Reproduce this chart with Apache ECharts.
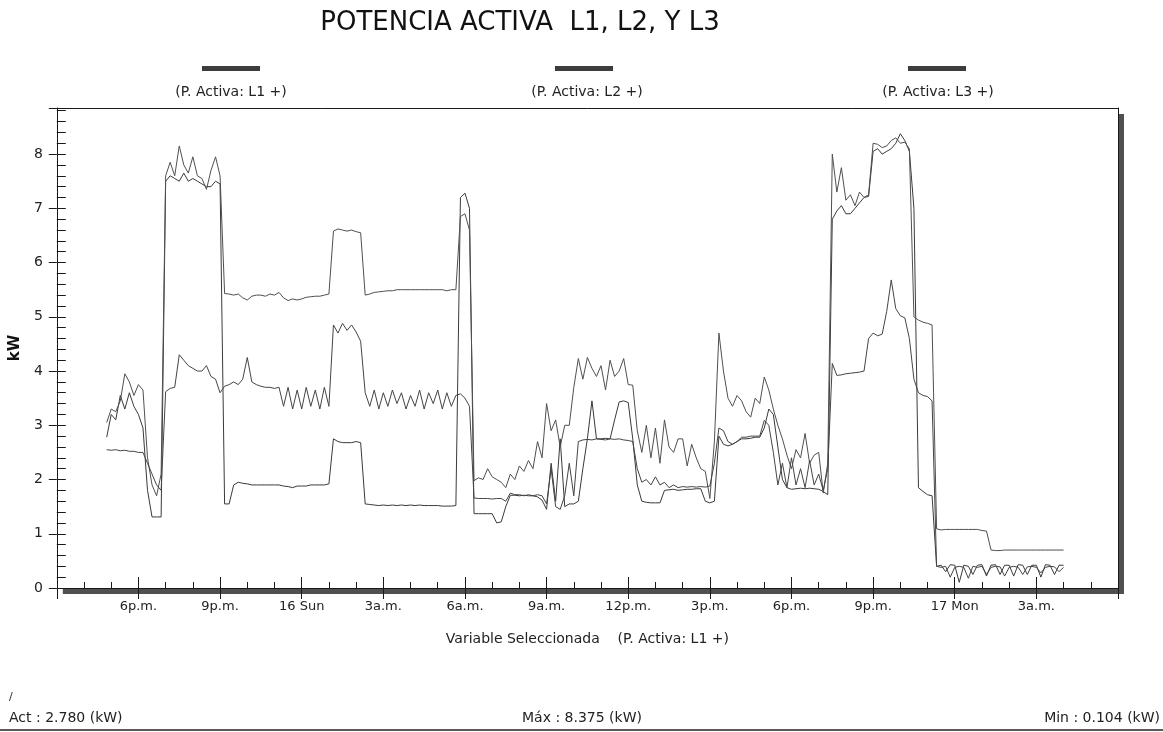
<!DOCTYPE html>
<html><head><meta charset="utf-8">
<script src="https://cdn.jsdelivr.net/npm/echarts@6/dist/echarts.min.js"></script>
<style>html,body{margin:0;padding:0;background:#fff}#c{width:1163px;height:732px}</style>
</head><body><div id="c"></div>
<script>
// ---------- data ----------
const chartTitle = 'POTENCIA ACTIVA  L1, L2, Y L3';
const seriesNames = ['(P. Activa: L1 +)', '(P. Activa: L2 +)', '(P. Activa: L3 +)'];
const xAxisTitle = 'Variable Seleccionada    (P. Activa: L1 +)';
// x axis in hours after 15:00 (day 15); one label every 3 h
const xTickLabels = ['', '6p.m.', '9p.m.', '16 Sun', '3a.m.', '6a.m.', '9a.m.', '12p.m.', '3p.m.', '6p.m.', '9p.m.', '17 Mon', '3a.m.', ''];
const START_HOUR = 110 / 60;   // first sample 16:50
const STEP_HOUR = 10 / 60;     // one sample every 10 minutes

const L1 = [2.78, 3.2, 3.1, 3.55, 3.3, 3.6, 3.35, 3.2, 2.95, 1.8, 1.31, 1.31, 1.31,
  7.5, 7.6, 7.55, 7.5, 7.65, 7.5, 7.55, 7.5, 7.45, 7.4, 7.4, 7.5, 7.45,
  1.55, 1.55, 1.9, 1.95, 1.93, 1.92, 1.9, 1.9, 1.9, 1.9, 1.9, 1.9, 1.9, 1.88, 1.87, 1.85, 1.88, 1.88, 1.88, 1.9, 1.9, 1.9, 1.9, 1.92,
  2.75, 2.7, 2.68, 2.68, 2.68, 2.7, 2.68,
  1.55, 1.54, 1.53, 1.52, 1.53, 1.52, 1.53, 1.52, 1.53, 1.52, 1.53, 1.52, 1.53, 1.52, 1.52, 1.52, 1.52, 1.51, 1.51, 1.51, 1.52,
  7.2, 7.28, 7.0,
  1.37, 1.37, 1.37, 1.37, 1.37, 1.2, 1.22, 1.5, 1.71, 1.71, 1.7, 1.71, 1.7, 1.7, 1.68, 1.62, 1.45, 2.3, 1.6, 2.75, 1.5, 1.55, 1.55, 1.6, 2.2, 2.75, 3.45, 2.75, 2.75, 2.76, 2.75, 3.1, 3.43, 3.45, 3.42, 2.75, 1.9, 1.6,
  1.58, 1.57, 1.57, 1.57, 1.8, 1.81, 1.82, 1.8, 1.81, 1.82, 1.82, 1.83, 1.83, 1.6, 1.57, 1.6, 2.8, 2.65, 2.62, 2.65, 2.7, 2.75, 2.75, 2.76, 2.78, 2.78, 2.95, 3.3, 3.2, 2.6, 2.0, 1.85, 1.82, 1.83, 1.84, 1.83, 1.84, 1.83, 1.82, 1.78, 1.72,
  6.8, 6.95, 7.05, 6.9, 6.9, 7.0, 7.1, 7.2, 7.22, 8.05, 8.1, 8.0, 8.05, 8.1, 8.2, 8.375, 8.25, 8.05, 7.0, 1.85, 1.78, 1.72, 1.7, 0.4,
  0.42, 0.3, 0.43, 0.42, 0.104, 0.42, 0.4, 0.25, 0.42, 0.43, 0.22, 0.42, 0.43, 0.25, 0.42, 0.42, 0.22, 0.43, 0.42, 0.25, 0.42, 0.42, 0.2, 0.43, 0.42, 0.25, 0.42, 0.42];

const L2 = [3.05, 3.3, 3.25, 3.45, 3.95, 3.8, 3.55, 3.75, 3.65, 2.4, 1.9, 1.7, 2.1,
  7.6, 7.85, 7.6, 8.15, 7.8, 7.65, 7.95, 7.6, 7.55, 7.35, 7.7, 7.95, 7.6,
  5.43, 5.42, 5.4, 5.42, 5.35, 5.31, 5.38, 5.4, 5.4, 5.38, 5.42, 5.4, 5.45, 5.35, 5.3, 5.33, 5.31, 5.33, 5.36, 5.37, 5.38, 5.38, 5.4, 5.42,
  6.58, 6.62, 6.6, 6.58, 6.6, 6.57, 6.55,
  5.4, 5.42, 5.45, 5.46, 5.47, 5.48, 5.48, 5.5, 5.5, 5.5, 5.5, 5.5, 5.5, 5.5, 5.5, 5.5, 5.5, 5.5, 5.48, 5.5, 5.5,
  6.85, 6.9, 6.6,
  1.98, 2.03, 2.0, 2.2, 2.05, 2.0, 1.95, 1.85, 2.1, 2.0, 2.25, 2.15, 2.35, 2.2, 2.7, 2.4, 3.4, 2.9, 3.1, 2.6, 3.0, 3.0, 3.7, 4.23, 3.85, 4.25, 4.05, 3.9, 4.1, 3.65, 4.2, 3.9, 4.0, 4.23, 3.75, 3.74,
  2.9, 2.5, 3.0, 2.4, 2.95, 2.3, 3.1, 2.6, 2.5, 2.75, 2.75, 2.25, 2.65, 2.4, 2.2, 2.15, 1.65, 2.7, 4.7, 4.0, 3.5, 3.35, 3.55, 3.45, 3.25, 3.15, 3.5, 3.4, 3.89, 3.65, 3.3, 3.0, 2.75, 2.45, 2.2, 2.55, 2.4, 2.85, 2.3, 2.45, 2.5, 1.75, 2.3,
  8.0, 7.3, 7.75, 7.15, 7.25, 7.05, 7.3, 7.2, 7.25, 8.2, 8.18, 8.12, 8.15, 8.25, 8.3, 8.2, 8.22, 8.1, 5.0, 4.94, 4.9, 4.88, 4.85,
  1.09, 1.07, 1.08, 1.08, 1.08, 1.08, 1.08, 1.08, 1.08, 1.08, 1.06, 1.05,
  0.7, 0.69, 0.69, 0.7, 0.7, 0.7, 0.7, 0.7, 0.7, 0.7, 0.7, 0.7, 0.7, 0.7, 0.7, 0.7, 0.7];

const L3 = [2.55, 2.54, 2.55, 2.53, 2.54, 2.52, 2.52, 2.5, 2.5, 2.3, 2.1, 1.9, 1.8,
  3.62, 3.68, 3.7, 4.3, 4.2, 4.1, 4.05, 4.0, 4.0, 4.1, 3.9, 3.85, 3.6, 3.72,
  3.75, 3.8, 3.75, 3.85, 4.25, 3.8, 3.75, 3.72, 3.7, 3.7, 3.68, 3.7, 3.35, 3.7, 3.3, 3.65, 3.3, 3.7, 3.35, 3.65, 3.3, 3.7, 3.35,
  4.85, 4.7, 4.88, 4.75, 4.85, 4.72, 4.55,
  3.6, 3.35, 3.65, 3.3, 3.6, 3.35, 3.65, 3.4, 3.6, 3.3, 3.55, 3.35, 3.65, 3.3, 3.6, 3.4, 3.65, 3.3, 3.6, 3.35, 3.55,
  3.58, 3.5, 3.35,
  1.66, 1.65, 1.65, 1.65, 1.64, 1.65, 1.65, 1.6, 1.75, 1.72, 1.72, 1.7, 1.72, 1.7, 1.72, 1.7, 1.55, 2.2, 1.5, 1.45, 1.7, 2.3, 1.7, 2.7, 2.73, 2.74, 2.73, 2.75, 2.74, 2.73, 2.75, 2.74, 2.75, 2.73, 2.72, 2.7,
  2.2, 1.95, 2.0, 1.9, 2.05, 1.9, 1.95, 1.85, 1.9, 1.85, 1.87, 1.86, 1.87, 1.86, 1.87, 1.86, 1.88, 2.3, 2.95, 2.9, 2.7, 2.65, 2.7, 2.78, 2.78, 2.8, 2.8, 2.8, 3.09, 3.0, 2.5, 1.9, 2.3, 1.85, 2.4, 1.9, 2.2, 1.85, 2.35, 1.9, 2.1, 1.8, 2.2,
  4.14, 3.92, 3.93, 3.95, 3.96, 3.97, 3.98, 4.0, 4.6, 4.7, 4.65, 4.68, 5.1, 5.68, 5.15, 5.02, 4.98, 4.6, 3.85, 3.6, 3.55, 3.53, 3.45, 0.4,
  0.38, 0.4, 0.2, 0.38, 0.4, 0.38, 0.18, 0.4, 0.38, 0.4, 0.25, 0.38, 0.4, 0.39, 0.22, 0.38, 0.4, 0.38, 0.25, 0.39, 0.4, 0.38, 0.28, 0.38, 0.4, 0.39, 0.3, 0.38];

// ---------- chart ----------
const FONT = '"DejaVu Sans", sans-serif';
const INK = '#222';
const AXIS = '#1a1a1a';
const pairs = (arr) => arr.map((v, i) => [START_HOUR + i * STEP_HOUR, v]);
const actVal = L1[0], maxVal = Math.max(...L1), minVal = Math.min(...L1);

const legendAt = (name, cx) => ({
  data: [name], left: cx - 29, top: 66, icon: 'rect', itemWidth: 58, itemHeight: 5,
  padding: 0, itemGap: 0, selectedMode: false, formatter: () => '',
  itemStyle: { color: '#3d3d3d' }, textStyle: { fontSize: 1 }
});
const textAt = (text, x, y, align, size, fill) => ({
  type: 'text', x: x, y: y, silent: true,
  style: { text: text, align: align, verticalAlign: 'middle', textAlign: align, textVerticalAlign: 'middle',
    font: size + 'px ' + FONT, fill: fill || INK }
});
const X_RANGE = { type: 'value', min: 0, max: 39, interval: 3, splitLine: { show: false } };
const Y_RANGE = { type: 'value', min: 0, max: 8.85, interval: 1, splitLine: { show: false } };
const frameOnly = { axisLine: { show: true, onZero: false, lineStyle: { color: AXIS } }, axisTick: { show: false }, axisLabel: { show: false } };

const lineColors = ['#3a3a3a', '#505050', '#454545'];
const chart = echarts.init(document.getElementById('c'), null, { renderer: 'canvas' });
chart.setOption({
  animation: false,
  backgroundColor: '#fff',
  textStyle: { fontFamily: FONT },
  grid: { left: 52, right: 45, top: 108, bottom: 144, show: true, backgroundColor: '#fff',
    borderWidth: 0,
    shadowColor: 'rgba(80,80,80,1)', shadowOffsetX: 6, shadowOffsetY: 6, shadowBlur: 0 },
  legend: [legendAt(seriesNames[0], 231), legendAt(seriesNames[1], 584), legendAt(seriesNames[2], 937)],
  xAxis: [
    Object.assign({}, X_RANGE, { position: 'bottom',
      axisLine: { show: true, onZero: false, lineStyle: { color: AXIS } },
      axisTick: { show: true, inside: true, length: 11, lineStyle: { color: AXIS } },
      minorTick: { show: true, splitNumber: 3, length: 6, lineStyle: { color: AXIS } },
      axisLabel: { margin: 12, fontSize: 13, color: INK, fontFamily: FONT,
        formatter: (v) => xTickLabels[Math.round(v / 3)] || '' },
      name: xAxisTitle, nameLocation: 'middle', nameGap: 44,
      nameTextStyle: { fontSize: 14, color: INK, fontFamily: FONT } }),
    Object.assign({}, X_RANGE, { position: 'bottom',
      axisLine: { show: false, onZero: false }, axisLabel: { show: false },
      axisTick: { show: true, inside: false, length: 11, lineStyle: { color: AXIS } } }),
    Object.assign({}, X_RANGE, { position: 'top' }, frameOnly)
  ],
  yAxis: [
    Object.assign({}, Y_RANGE, { position: 'left',
      axisLine: { show: true, onZero: false, lineStyle: { color: AXIS } },
      axisTick: { show: true, inside: true, length: 9, lineStyle: { color: AXIS } },
      minorTick: { show: true, splitNumber: 5, length: 9, lineStyle: { color: AXIS } },
      axisLabel: { show: false } }),
    Object.assign({}, Y_RANGE, { position: 'left',
      axisLine: { show: false, onZero: false },
      axisTick: { show: true, inside: false, length: 8, lineStyle: { color: AXIS } },
      axisLabel: { margin: 14, fontSize: 14, color: INK, fontFamily: FONT,
        formatter: (v) => Number.isInteger(v) ? String(v) : '' },
      name: 'kW', nameLocation: 'middle', nameGap: 27, nameRotate: 90,
      nameTextStyle: { fontSize: 15, fontWeight: 'bold', color: '#111', fontFamily: FONT } }),
    Object.assign({}, Y_RANGE, { position: 'right' }, frameOnly)
  ],
  series: [L1, L2, L3].map((arr, k) => ({
    name: seriesNames[k], type: 'line', data: pairs(arr), showSymbol: false, symbol: 'none',
    lineStyle: { width: 1, color: lineColors[k] }, itemStyle: { color: lineColors[k] }
  })),
  graphic: [
    textAt(chartTitle, 520, 23, 'center', 26, '#111'),
    textAt(seriesNames[0], 231, 92, 'center', 14),
    textAt(seriesNames[1], 587, 92, 'center', 14),
    textAt(seriesNames[2], 938, 92, 'center', 14),
    textAt('/', 9, 697, 'left', 11),
    textAt('Act : ' + actVal.toFixed(3) + ' (kW)', 9, 718, 'left', 14),
    textAt('Máx : ' + maxVal.toFixed(3) + ' (kW)', 582, 718, 'center', 14),
    textAt('Min : ' + minVal.toFixed(3) + ' (kW)', 1160, 718, 'right', 14),
    { type: 'rect', silent: true, shape: { x: 0, y: 729, width: 1163, height: 2 }, style: { fill: '#5a5a5a' } }
  ]
});
</script></body></html>
